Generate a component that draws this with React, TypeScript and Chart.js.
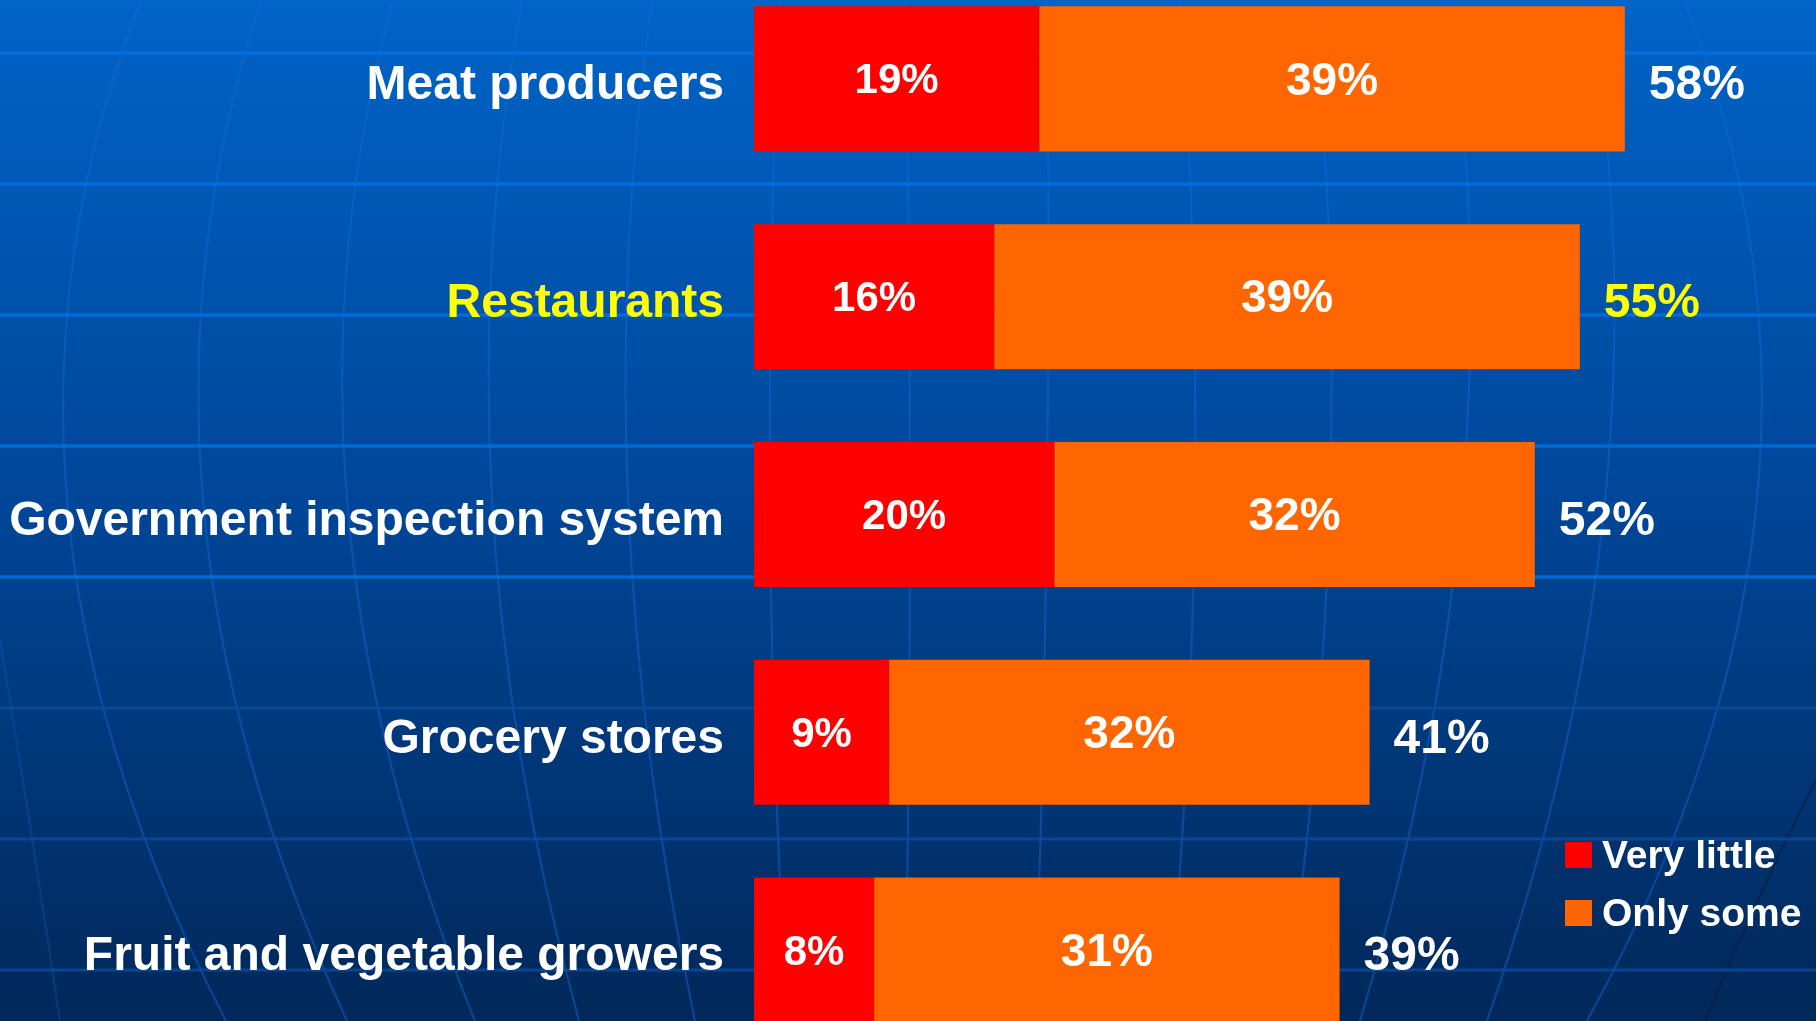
import React, { useEffect, useRef } from 'react';
import { Chart, registerables } from 'chart.js';

Chart.register(...registerables);

// ---- data ----
const categories = [
  'Meat producers',
  'Restaurants',
  'Government inspection system',
  'Grocery stores',
  'Fruit and vegetable growers',
];
const veryLittle = [19, 16, 20, 9, 8];
const onlySome = [39, 39, 32, 32, 31];
const totals = [58, 55, 52, 41, 39];
const seriesNames = ['Very little', 'Only some'];
const highlightedCategory = 'Restaurants';

// ---- style ----
const FONT = '"Liberation Sans", Arial, Helvetica, sans-serif';
const RED = '#FF0000';
const ORANGE = '#FF6600';
const YELLOW = '#FFFF00';
const WHITE = '#FFFFFF';
const SHIFT = 30; // canvas starts 30px above the viewport top
const W = 1816;
const H = 1089;

const meridians: Array<[number, number, number]> = [
  [141, 67, 226],
  [261, 203, 347],
  [393, 347, 475],
  [522, 492, 579],
  [652, 628, 695],
  [780, 770, 787],
  [905, 910, 905],
  [1047, 1047, 1035],
  [1180, 1195, 1168],
  [1313, 1330, 1284],
  [1449, 1462, 1360],
  [1588, 1605, 1487],
  [1684, 1757, 1587],
];

const bgPlugin = {
  id: 'bgGlobe',
  beforeDraw(chart: any) {
    const ctx = chart.ctx as CanvasRenderingContext2D;
    ctx.save();
    ctx.translate(0, SHIFT);
    const g = ctx.createLinearGradient(0, 0, 0, 1021);
    g.addColorStop(0, '#0064C8');
    g.addColorStop(0.47, '#00479A');
    g.addColorStop(1, '#012859');
    ctx.fillStyle = g;
    ctx.fillRect(0, -SHIFT, chart.width, chart.height);

    // meridians
    ctx.lineWidth = 2.2;
    ctx.strokeStyle = 'rgba(20,105,215,0.45)';
    meridians.forEach(([x0, xm, x2]) => {
      const cx = 2 * xm - (x0 + x2) / 2;
      const cy = 2 * 500 - (0 + 1021) / 2;
      ctx.beginPath();
      ctx.moveTo(x0, 0);
      ctx.quadraticCurveTo(cx, cy, x2, 1021);
      ctx.stroke();
    });
    ctx.strokeStyle = 'rgba(20,95,200,0.3)';
    ctx.beginPath();
    ctx.moveTo(0, 640);
    ctx.quadraticCurveTo(30, 820, 60, 1021);
    ctx.stroke();
    // dark thin line on the right
    ctx.strokeStyle = 'rgba(10,25,50,0.7)';
    ctx.lineWidth = 1.5;
    ctx.beginPath();
    ctx.moveTo(1816, 780);
    ctx.quadraticCurveTo(1760, 890, 1705, 1021);
    ctx.stroke();

    // horizontal lines
    const bright = [53, 184, 315, 446, 577];
    const dim = [708, 839, 970];
    ctx.lineWidth = 3.5;
    ctx.strokeStyle = 'rgba(0,112,225,0.85)';
    bright.forEach((y) => {
      ctx.beginPath();
      ctx.moveTo(0, y);
      ctx.lineTo(W, y);
      ctx.stroke();
    });
    ctx.lineWidth = 3;
    ctx.strokeStyle = 'rgba(10,75,155,0.85)';
    dim.forEach((y) => {
      ctx.beginPath();
      ctx.moveTo(0, y);
      ctx.lineTo(W, y);
      ctx.stroke();
    });
    ctx.restore();
  },
};

const labelPlugin = {
  id: 'barLabels',
  afterDatasetsDraw(chart: any) {
    const ctx = chart.ctx as CanvasRenderingContext2D;
    ctx.save();
    ctx.textBaseline = 'middle';
    chart.data.datasets.forEach((ds: any, di: number) => {
      const meta = chart.getDatasetMeta(di);
      meta.data.forEach((bar: any, i: number) => {
        const p = bar.getProps(['x', 'y', 'base'], true);
        ctx.font = `bold ${di === 0 ? 42 : 46}px ${FONT}`;
        ctx.fillStyle = WHITE;
        ctx.textAlign = 'center';
        ctx.fillText(`${ds.data[i]}%`, (p.x + p.base) / 2, p.y + 3);
      });
    });
    // totals
    const last = chart.getDatasetMeta(chart.data.datasets.length - 1);
    last.data.forEach((bar: any, i: number) => {
      const p = bar.getProps(['x', 'y'], true);
      ctx.font = `bold 48px ${FONT}`;
      ctx.textAlign = 'left';
      ctx.fillStyle = categories[i] === highlightedCategory ? YELLOW : WHITE;
      ctx.fillText(`${totals[i]}%`, p.x + 24, p.y + 7);
    });
    // legend
    ctx.textBaseline = 'alphabetic';
    ctx.font = `bold 39px ${FONT}`;
    chart.data.datasets.forEach((ds: any, di: number) => {
      const top = 842 + di * 58 + SHIFT;
      ctx.fillStyle = ds.backgroundColor;
      ctx.fillRect(1565, top, 27, 26);
      ctx.fillStyle = WHITE;
      ctx.textAlign = 'left';
      ctx.fillText(ds.label, 1602, top + 26);
    });
    ctx.restore();
  },
};

export default function App() {
  const ref = useRef<HTMLCanvasElement | null>(null);

  useEffect(() => {
    if (!ref.current) return;
    const chart = new Chart(ref.current, {
      type: 'bar',
      data: {
        labels: categories,
        datasets: [
          {
            label: seriesNames[0],
            data: veryLittle,
            backgroundColor: RED,
            borderWidth: 0,
            barPercentage: 0.666,
            categoryPercentage: 1,
          },
          {
            label: seriesNames[1],
            data: onlySome,
            backgroundColor: ORANGE,
            borderWidth: 0,
            barPercentage: 0.666,
            categoryPercentage: 1,
          },
        ],
      },
      options: {
        indexAxis: 'y',
        animation: false,
        responsive: false,
        layout: { padding: { left: 0, right: 11, top: 0, bottom: 0 } },
        scales: {
          x: { stacked: true, min: 0, max: 70, display: false },
          y: {
            stacked: true,
            grid: { display: false, drawTicks: false },
            border: { display: false },
            ticks: {
              autoSkip: false,
              padding: 30,
              labelOffset: 7,
              font: { family: FONT, size: 48, weight: 'bold' },
              color: (c: any) => (categories[c.index] === highlightedCategory ? YELLOW : WHITE),
            },
            afterFit: (s: any) => {
              s.width = 754;
              s.paddingTop = 0;
              s.paddingBottom = 0;
            },
          },
        },
        plugins: {
          legend: { display: false },
          tooltip: { enabled: false },
        },
      },
      plugins: [bgPlugin, labelPlugin],
    } as any);
    return () => chart.destroy();
  }, []);

  return (
    <div
      style={{
        position: 'fixed',
        left: 0,
        top: -SHIFT,
        width: W,
        height: H,
        overflow: 'hidden',
      }}
    >
      <canvas ref={ref} width={W} height={H} style={{ display: 'block', width: W, height: H }} />
    </div>
  );
}
